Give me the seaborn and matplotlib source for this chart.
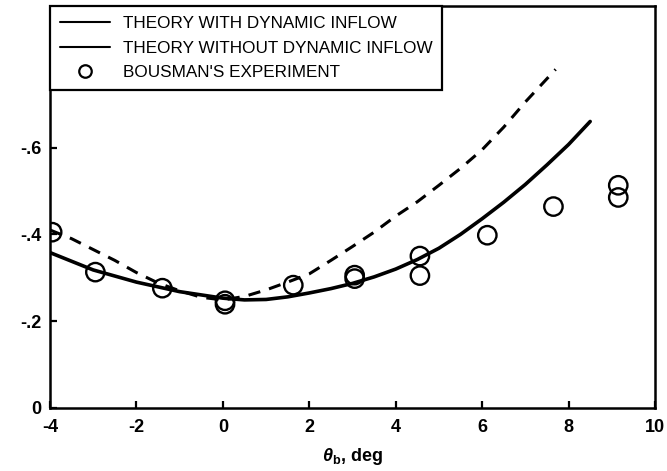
import matplotlib
matplotlib.use("Agg")
import matplotlib.pyplot as plt
from matplotlib.lines import Line2D
import seaborn as sns
import pandas as pd

# ---- data ----
with_x = [-4.0, -3.0, -2.0, -1.0, 0.0, 0.5, 1.0, 1.5, 2.0, 2.5, 3.0, 3.5, 4.0, 4.5,
          5.0, 5.5, 6.0, 6.5, 7.0, 7.5, 8.0, 8.5]
with_y = [-0.358, -0.318, -0.290, -0.268, -0.253, -0.249, -0.250, -0.256, -0.265,
          -0.275, -0.287, -0.302, -0.320, -0.342, -0.368, -0.400, -0.436, -0.474,
          -0.515, -0.560, -0.607, -0.660]

without_x = [-4.0, -3.5, -3.0, -2.5, -2.0, -1.5, -1.0, -0.5, 0.0, 0.5, 1.0, 1.5, 2.0,
             2.5, 3.0, 3.5, 4.0, 4.5, 5.0, 5.5, 6.0, 6.5, 7.0, 7.7]
without_y = [-0.410, -0.390, -0.365, -0.340, -0.312, -0.288, -0.270, -0.255, -0.249,
             -0.257, -0.272, -0.290, -0.309, -0.340, -0.372, -0.405, -0.442, -0.475,
             -0.513, -0.552, -0.595, -0.647, -0.705, -0.780]

exp_x = [-3.95, -2.95, -1.40, 0.05, 0.05, 1.63, 3.05, 3.05, 4.56, 4.56, 6.12, 7.65, 9.15, 9.15]
exp_y = [-0.405, -0.313, -0.276, -0.247, -0.239, -0.283, -0.306, -0.298, -0.350, -0.305,
         -0.398, -0.464, -0.513, -0.485]

legend_labels = ["THEORY WITH DYNAMIC INFLOW", "THEORY WITHOUT DYNAMIC INFLOW",
                 "BOUSMAN'S EXPERIMENT"]
xticks = [-4, -2, 0, 2, 4, 6, 8, 10]
xtick_labels = ["-4", "-2", "0", "2", "4", "6", "8", "10"]
yticks = [0, -0.2, -0.4, -0.6]
ytick_labels = ["0", "-.2", "-.4", "-.6"]
xlabel = r"$\theta_{\mathbf{b}}$, deg"

# ---- style ----
sns.set_style("ticks")
plt.rcParams["font.family"] = ["Liberation Sans", "DejaVu Sans"]
plt.rcParams["mathtext.fontset"] = "custom"
plt.rcParams["mathtext.it"] = "Liberation Sans:italic:bold"
plt.rcParams["mathtext.bf"] = "Liberation Sans:bold"
plt.rcParams["mathtext.rm"] = "Liberation Sans:bold"
for key in ["text.color", "axes.labelcolor", "xtick.color", "ytick.color",
            "axes.edgecolor"]:
    plt.rcParams[key] = "black"

fig = plt.figure(figsize=(6.67, 4.71), dpi=100)
ax = fig.add_axes([50 / 667, 1 - 408 / 471, 605 / 667, 402 / 471])

df_with = pd.DataFrame({"x": with_x, "y": with_y})
df_without = pd.DataFrame({"x": without_x, "y": without_y})
df_exp = pd.DataFrame({"x": exp_x, "y": exp_y})

sns.lineplot(data=df_with, x="x", y="y", sort=False, estimator=None, ax=ax,
             color="black", linewidth=2.6)
sns.lineplot(data=df_without, x="x", y="y", sort=False, estimator=None, ax=ax,
             color="black", linewidth=2.2, linestyle=(0, (4, 3)))
sns.scatterplot(data=df_exp, x="x", y="y", ax=ax, marker="o", s=175,
                facecolor="none", edgecolor="black", linewidth=1.7, zorder=3)
for coll in ax.collections:
    coll.set_facecolor("none")
    coll.set_edgecolor("black")

ax.set_xlim(-4, 10)
ax.set_ylim(0, -0.926)
ax.set_xticks(xticks)
ax.set_xticklabels(xtick_labels)
ax.set_yticks(yticks)
ax.set_yticklabels(ytick_labels)
ax.tick_params(direction="in", length=5, width=1.6, labelsize=13, pad=6,
               colors="black")
ax.tick_params(axis="x", pad=8)
for lab in ax.get_xticklabels() + ax.get_yticklabels():
    lab.set_fontweight("bold")
for sp in ax.spines.values():
    sp.set_visible(True)
    sp.set_linewidth(1.8)
    sp.set_color("black")

ax.set_xlabel(xlabel, fontsize=13, fontweight="bold", labelpad=7, color="black")
ax.set_ylabel("")

handles = [Line2D([], [], color="black", lw=1.5),
           Line2D([], [], color="black", lw=1.5),
           Line2D([], [], color="black", marker="o", ls="none", markersize=9,
                  markerfacecolor="none", markeredgewidth=1.6)]
leg = ax.legend(handles, legend_labels, loc="upper left", bbox_to_anchor=(0, 1),
                borderaxespad=0, fancybox=False, frameon=True, framealpha=1,
                edgecolor="black", fontsize=12.3, handlelength=2.9,
                handletextpad=0.75, labelspacing=0.55, borderpad=0.6)
leg.get_frame().set_linewidth(1.6)
for t in leg.get_texts():
    t.set_color("black")

fig.savefig("out.png", dpi=100)
